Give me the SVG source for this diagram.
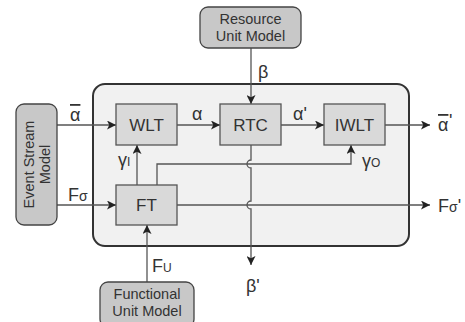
<svg xmlns="http://www.w3.org/2000/svg" width="465" height="322" viewBox="0 0 465 322">
<defs>
<marker id="ah" viewBox="0 0 10 10" refX="10" refY="5" markerWidth="9" markerHeight="9" markerUnits="userSpaceOnUse" orient="auto">
<path d="M0,0 L10,5 L0,10 L2.5,5 Z" fill="#222"/>
</marker>
<style>
.t{font-family:"Liberation Sans",Arial,sans-serif;fill:#333;text-anchor:middle}
.b{font-size:17px}
.m{font-size:14.5px}
.g{font-family:"Liberation Sans",Arial,sans-serif;fill:#333;font-size:18px}
.s{font-size:12px}
.box{fill:#d9d9d9;stroke:#555;stroke-width:1.3}
.ext{fill:#c8c8c8;stroke:#444;stroke-width:1.3}
.ca{fill:none;stroke:#555;stroke-width:1.3;marker-end:url(#ah)}
</style>
</defs>
<rect width="465" height="322" fill="#fff"/>
<g id="container"><rect x="93" y="84" width="316" height="162" rx="12" fill="#f1f1f1" stroke="#333" stroke-width="2"/></g>
<g id="connectors">
<line class="ca" x1="251" y1="48" x2="251" y2="104"/>
<line class="ca" x1="57" y1="125" x2="116" y2="125"/>
<line class="ca" x1="177" y1="125" x2="220" y2="125"/>
<line class="ca" x1="281" y1="125" x2="324" y2="125"/>
<line class="ca" x1="385" y1="125" x2="430" y2="125"/>
<line class="ca" x1="57" y1="205" x2="116" y2="205"/>
<line class="ca" x1="177" y1="205" x2="430" y2="205"/>
<line class="ca" x1="137" y1="185" x2="137" y2="145"/>
<polyline class="ca" points="157,185 157,164 351,164 351,145"/>
<line class="ca" x1="147" y1="282" x2="147" y2="225"/>
<path class="ca" d="M251,145 L251,160 A4,4 0 0 0 251,168 L251,201 A4,4 0 0 0 251,209 L251,265"/>
</g>
<g id="resource"><rect class="ext" x="200" y="7" width="101" height="41" rx="8"/><text class="t m" x="250.5" y="24">Resource</text><text class="t m" x="250.5" y="41">Unit Model</text></g>
<g id="eventstream"><rect class="ext" x="16" y="104" width="41" height="121" rx="8"/><text class="t m" transform="translate(36.5,164.5) rotate(-90)"><tspan x="0" y="-3">Event Stream</tspan><tspan x="0" y="13">Model</tspan></text></g>
<g id="functional"><rect class="ext" x="100" y="282" width="94" height="45" rx="8"/><text class="t m" x="147" y="299">Functional</text><text class="t m" x="147" y="316">Unit Model</text></g>
<g id="wlt"><rect class="box" x="116" y="104" width="61" height="41"/><text class="t b" x="146.5" y="131">WLT</text></g>
<g id="rtc"><rect class="box" x="220" y="104" width="61" height="41"/><text class="t b" x="250.5" y="131">RTC</text></g>
<g id="iwlt"><rect class="box" x="324" y="104" width="61" height="41"/><text class="t b" x="354.5" y="131">IWLT</text></g>
<g id="ft"><rect class="box" x="116" y="185" width="61" height="40"/><text class="t b" x="146.5" y="211">FT</text></g>
<g id="labels">
<text class="g" x="70" y="121" text-decoration="overline">α</text>
<text class="g" x="192" y="120">α</text>
<text class="g" x="293" y="120">α'</text>
<text class="g" x="438" y="131" text-decoration="overline">α</text><text class="g" x="449" y="127">'</text>
<text class="g" x="258" y="78">β</text>
<text class="g" x="246" y="292">β'</text>
<text class="g" x="118" y="166">γ<tspan class="s">I</tspan></text>
<text class="g" x="362" y="167">γ<tspan class="s">O</tspan></text>
<text class="g" x="68" y="201">F<tspan font-size="14">σ</tspan></text>
<text class="g" x="438" y="212">F<tspan font-size="14">σ</tspan>'</text>
<text class="g" x="152" y="272">F<tspan class="s">U</tspan></text>
</g>
</svg>
